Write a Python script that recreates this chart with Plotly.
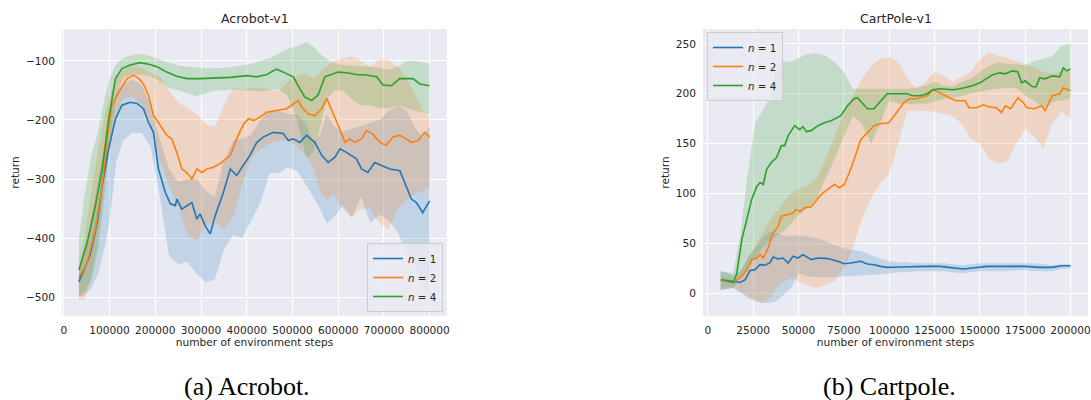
import plotly.graph_objects as go

# ---------------- Acrobot-v1 data ----------------
acro_x_n1 = [33000, 57000, 73000, 84000, 98000, 113000, 127000, 145000, 160000, 174000, 185000, 196000,
             207000, 222000, 233000, 244000, 247000, 258000, 280000, 291000, 298000, 309000, 320000, 331000,
             349000, 364000, 378000, 393000, 407000, 422000, 436000, 458000, 480000, 491000, 502000, 516000,
             531000, 549000, 564000, 578000, 593000, 604000, 618000, 640000, 651000, 665000, 680000, 695000,
             713000, 735000, 745000, 760000, 771000, 785000, 800000]
acro_mean_n1 = [-474, -430, -374, -311, -249, -198, -175, -170, -172, -181, -204, -221,
                -283, -323, -342, -345, -334, -351, -340, -368, -359, -379, -393, -362,
                -323, -283, -294, -277, -260, -238, -229, -221, -223, -235, -232, -238,
                -226, -238, -260, -272, -263, -249, -255, -266, -283, -289, -272, -277,
                -283, -286, -306, -334, -340, -357, -337]

acro_x_n2 = [33000, 51000, 69000, 84000, 95000, 105000, 120000, 138000, 153000, 164000, 174000, 185000,
             196000, 211000, 225000, 236000, 247000, 258000, 269000, 280000, 291000, 302000, 313000, 327000,
             342000, 364000, 378000, 393000, 404000, 415000, 429000, 444000, 465000, 487000, 502000, 513000,
             520000, 535000, 549000, 564000, 575000, 585000, 600000, 615000, 625000, 636000, 651000, 662000,
             676000, 691000, 705000, 720000, 735000, 749000, 760000, 775000, 789000, 800000]
acro_mean_n2 = [-467, -442, -385, -311, -232, -175, -153, -130, -124, -130, -139, -158,
                -192, -209, -226, -232, -255, -283, -289, -300, -283, -289, -283, -280,
                -274, -260, -232, -207, -198, -201, -195, -187, -184, -181, -173, -167,
                -178, -190, -193, -181, -164, -181, -209, -238, -232, -238, -232, -218,
                -224, -238, -243, -229, -226, -232, -238, -235, -221, -229]

acro_x_n4 = [33000, 51000, 69000, 84000, 98000, 113000, 127000, 145000, 167000, 182000, 204000, 225000,
             247000, 269000, 298000, 327000, 364000, 400000, 422000, 444000, 465000, 480000, 502000, 516000,
             527000, 542000, 556000, 571000, 585000, 600000, 618000, 640000, 662000, 684000, 698000, 716000,
             735000, 764000, 778000, 800000]
acro_mean_n4 = [-454, -408, -345, -283, -198, -130, -113, -107, -103, -105, -110, -119,
                -126, -130, -130, -129, -128, -125, -127, -123, -114, -119, -127, -147,
                -161, -167, -158, -127, -123, -119, -120, -123, -124, -127, -141, -142,
                -130, -130, -139, -142]

acro_band_x = [33000, 45000, 60000, 75000, 90000, 100000, 115000, 130000, 150000, 170000, 190000, 210000,
               230000, 250000, 270000, 290000, 310000, 330000, 350000, 370000, 390000, 410000, 430000, 450000,
               470000, 490000, 510000, 530000, 545000, 560000, 575000, 590000, 610000, 630000, 650000, 670000,
               690000, 710000, 730000, 750000, 770000, 785000, 800000]
acro_lo_n1 = [-500, -497, -485, -460, -413, -370, -270, -235, -222, -222, -245, -330,
              -430, -445, -440, -460, -475, -470, -420, -395, -400, -370, -340, -290,
              -290, -280, -287, -310, -330, -350, -375, -365, -345, -365, -330, -375,
              -360, -370, -390, -425, -450, -480, -495]
acro_hi_n1 = [-455, -420, -370, -300, -240, -200, -155, -137, -132, -140, -175, -232,
              -283, -305, -300, -300, -320, -330, -270, -235, -232, -225, -200, -185,
              -185, -190, -190, -205, -240, -225, -190, -210, -220, -215, -210, -205,
              -200, -185, -175, -185, -215, -230, -210]
acro_lo_n2 = [-505, -505, -470, -400, -300, -250, -190, -165, -160, -175, -210, -270,
              -310, -345, -395, -405, -380, -370, -385, -365, -310, -265, -250, -240,
              -235, -235, -245, -260, -280, -320, -335, -325, -350, -365, -350, -350,
              -375, -385, -350, -335, -325, -320, -315]
acro_hi_n2 = [-440, -400, -320, -250, -190, -160, -130, -115, -108, -112, -120, -127,
              -150, -170, -180, -190, -207, -212, -175, -145, -150, -145, -145, -150,
              -150, -135, -125, -120, -130, -120, -110, -100, -95, -92, -100, -110,
              -98, -98, -110, -130, -160, -185, -195]
acro_lo_n4 = [-500, -490, -470, -420, -320, -240, -160, -128, -123, -123, -126, -135,
              -145, -150, -155, -160, -155, -150, -150, -148, -150, -150, -152, -150,
              -148, -160, -200, -263, -255, -215, -165, -150, -150, -165, -175, -175,
              -180, -180, -175, -180, -185, -188, -190]
acro_hi_n4 = [-400, -330, -260, -220, -160, -130, -105, -95, -90, -88, -92, -98,
              -103, -108, -110, -112, -113, -112, -112, -110, -108, -105, -100, -95,
              -88, -80, -75, -68, -75, -88, -97, -103, -107, -108, -108, -110,
              -112, -115, -110, -100, -100, -102, -105]

# ---------------- CartPole-v1 data ----------------
cart_x_n1 = [7300, 13300, 17900, 20600, 23300, 26000, 28800, 31500, 34200, 36000, 38800, 41500, 44300,
             47000, 49700, 52500, 54300, 57000, 60700, 66100, 71600, 75200, 78900, 82500, 84300, 88000,
             91600, 95300, 98900, 106000, 113000, 121000, 128000, 135000, 141000, 146000, 154000, 161000,
             168000, 175000, 183000, 190000, 195000, 200000]
cart_mean_n1 = [13.4, 11.7, 10.7, 13.4, 22.8, 23.5, 28.5, 27.9, 30.2, 36.2, 34.2, 35.2, 30.2,
                36.9, 35.2, 38.6, 36.9, 33.6, 35.2, 34.6, 31.9, 29.5, 30.2, 30.9, 31.9, 29.2,
                28.5, 26.8, 25.8, 26.2, 26.8, 26.8, 26.8, 25.8, 24.2, 25.2, 26.8, 26.8,
                26.8, 26.8, 25.8, 25.8, 27.5, 27.5]

cart_x_n2 = [7300, 14200, 18800, 21500, 24200, 27000, 28800, 30600, 33300, 36000, 38800, 40600, 44300,
             47000, 48800, 50600, 53400, 57000, 58800, 62500, 66100, 69800, 72500, 75200, 78000, 80700,
             84300, 88000, 91600, 95300, 99800, 104000, 108000, 111000, 115000, 121000, 124000, 128000,
             133000, 137000, 142000, 144000, 148000, 152000, 155000, 159000, 162000, 164000, 167000,
             171000, 174000, 176000, 180000, 184000, 186000, 190000, 194000, 196000, 200000]
cart_mean_n2 = [13.4, 10.7, 16.8, 23.5, 33.6, 35.2, 38.6, 35.2, 45.3, 60.4, 67.1, 77.2, 78.9,
                80.5, 83.9, 81.5, 85.6, 86.6, 90.6, 99.0, 104.0, 109.0, 105.7, 109.0, 120.8, 134.0,
                154.0, 161.0, 168.0, 170.0, 171.0, 181.0, 191.0, 195.0, 195.0, 198.0, 204.0, 201.0,
                196.0, 193.0, 193.0, 186.0, 186.0, 189.0, 187.0, 186.0, 181.0, 188.0, 185.0,
                196.0, 191.0, 186.0, 185.0, 188.0, 183.0, 198.0, 200.0, 206.0, 203.0]

cart_x_n4 = [7300, 14200, 16000, 18800, 21500, 24200, 27000, 28800, 30600, 32400, 35000, 37900, 40600,
             42400, 44300, 47900, 50600, 52500, 54300, 57000, 60700, 64300, 68000, 73400, 77000, 80700,
             82500, 85200, 88000, 91600, 95300, 98900, 106000, 110000, 113000, 117000, 121000, 124000,
             128000, 132000, 135000, 139000, 143000, 146000, 150000, 154000, 157000, 161000, 164000,
             168000, 171000, 173000, 175000, 179000, 181000, 183000, 186000, 190000, 194000, 196000,
             198000, 200000]
cart_mean_n4 = [13.4, 10.7, 20.0, 54.0, 74.0, 94.0, 107.0, 111.0, 109.0, 124.0, 131.0, 136.0, 148.0,
                148.0, 158.0, 168.0, 164.0, 167.0, 162.0, 163.0, 168.0, 171.0, 173.0, 178.0, 188.0, 195.0,
                196.0, 191.0, 185.0, 185.0, 193.0, 200.0, 200.0, 200.0, 198.0, 198.0, 200.0, 204.0,
                205.0, 204.0, 204.0, 205.0, 207.0, 208.0, 211.0, 216.0, 219.0, 221.0, 220.0,
                223.0, 222.0, 211.0, 213.0, 207.0, 207.0, 216.0, 215.0, 218.0, 217.0, 226.0,
                223.0, 225.0]

cart_band_x = [7000, 10000, 14000, 18000, 22000, 26000, 30000, 34000, 38000, 42000, 46000, 50000, 55000,
               60000, 65000, 70000, 75000, 80000, 85000, 90000, 95000, 100000, 105000, 110000, 115000,
               120000, 125000, 130000, 135000, 140000, 145000, 150000, 155000, 160000, 165000, 170000,
               175000, 180000, 185000, 190000, 195000, 200000]
cart_lo_n1 = [3, 4, 5, 0, -5, -8, -10, -10, -8, -2, 5, 20, 17,
              16, 16, 16, 17, 17, 18, 18, 19, 20, 21, 21, 22,
              22, 22, 22, 21, 20, 21, 22, 22, 22, 22, 23,
              23, 22, 22, 22, 24, 25]
cart_hi_n1 = [22, 21, 18, 22, 35, 45, 55, 62, 60, 58, 57, 58, 57,
              55, 52, 48, 45, 43, 42, 38, 35, 32, 31, 31, 30,
              30, 30, 30, 29, 28, 29, 30, 30, 30, 30, 30,
              30, 30, 29, 28, 29, 29]
cart_lo_n2 = [5, 6, 6, 2, -3, -7, -10, -5, 5, 12, 15, 12, 8,
              5, 8, 12, 25, 45, 75, 95, 110, 120, 150, 183, 183,
              183, 182, 180, 178, 170, 155, 150, 135, 130, 132, 150,
              165, 157, 145, 170, 182, 176]
cart_hi_n2 = [18, 17, 15, 22, 35, 48, 60, 72, 82, 92, 100, 105, 108,
              115, 135, 158, 180, 198, 215, 228, 235, 237, 232, 215, 205,
              212, 222, 218, 212, 217, 222, 235, 242, 238, 236, 233,
              230, 226, 222, 220, 222, 225]
cart_lo_n4 = [3, 4, 5, 15, 25, 35, 45, 52, 58, 62, 70, 78, 85,
              95, 115, 135, 156, 178, 170, 150, 170, 193, 190, 190, 190,
              190, 192, 195, 196, 198, 200, 202, 204, 205, 206, 206,
              198, 193, 185, 192, 193, 196]
cart_hi_n4 = [22, 21, 20, 60, 120, 170, 182, 195, 228, 233, 232, 236, 240,
              241, 238, 232, 222, 205, 205, 205, 205, 205, 205, 205, 206,
              208, 212, 208, 207, 212, 215, 222, 228, 232, 230, 230,
              228, 233, 235, 238, 248, 250]

labels = ["<i>n</i> = 1", "<i>n</i> = 2", "<i>n</i> = 4"]
colors = ["#1f77b4", "#ff7f0e", "#2ca02c"]
fills = ["rgba(31,119,180,0.2)", "rgba(255,127,14,0.2)", "rgba(44,160,44,0.2)"]

FONT = "DejaVu Sans"
TXT = "#262626"
BG = "#EAEAF2"

fig = go.Figure()


def add_panel(bx, los, his, xs, means, xa, ya, legend):
    for lo, hi, fc in zip(los, his, fills):
        fig.add_trace(go.Scatter(x=bx + bx[::-1], y=hi + lo[::-1], fill="toself", fillcolor=fc,
                                 line=dict(width=0), mode="lines", hoverinfo="skip", showlegend=False,
                                 xaxis=xa, yaxis=ya))
    for x, m, c, lab in zip(xs, means, colors, labels):
        fig.add_trace(go.Scatter(x=x, y=m, mode="lines", line=dict(color=c, width=1.6), name=lab,
                                 xaxis=xa, yaxis=ya, legend=legend))


add_panel(acro_band_x, [acro_lo_n1, acro_lo_n2, acro_lo_n4], [acro_hi_n1, acro_hi_n2, acro_hi_n4],
          [acro_x_n1, acro_x_n2, acro_x_n4], [acro_mean_n1, acro_mean_n2, acro_mean_n4], "x", "y", "legend")
add_panel(cart_band_x, [cart_lo_n1, cart_lo_n2, cart_lo_n4], [cart_hi_n1, cart_hi_n2, cart_hi_n4],
          [cart_x_n1, cart_x_n2, cart_x_n4], [cart_mean_n1, cart_mean_n2, cart_mean_n4], "x2", "y2", "legend2")

W, H = 1091, 400


def px_x(a, b):
    return [a / W, b / W]


def px_y(top, bottom):
    return [1 - bottom / H, 1 - top / H]


axis_common = dict(showgrid=True, gridcolor="white", gridwidth=1.2, zeroline=False, showline=False,
                   ticks="", tickfont=dict(family=FONT, size=10.6, color=TXT), ticklabelstandoff=6,
                   automargin=False)

title_font = dict(family=FONT, size=10.6, color=TXT)
legend_common = dict(bgcolor="rgba(234,234,242,0.8)", bordercolor="#cccccc", borderwidth=1,
                     font=dict(family=FONT, size=10.3, color=TXT), itemwidth=30)

fig.update_layout(
    width=W, height=H,
    margin=dict(l=0, r=0, t=0, b=0, pad=0, autoexpand=False),
    paper_bgcolor="white",
    plot_bgcolor=BG,
    font=dict(family=FONT, color=TXT),
    hovermode=False,
    xaxis=dict(domain=px_x(62, 447), range=[-4000, 838000], tickvals=list(range(0, 800001, 100000)),
               tickformat="d", anchor="y",
               title=dict(text="number of environment steps", font=title_font, standoff=2), **axis_common),
    yaxis=dict(domain=px_y(29, 316), range=[-532, -46], tickvals=[-500, -400, -300, -200, -100], anchor="x",
               title=dict(text="return", font=title_font, standoff=4), **axis_common),
    xaxis2=dict(domain=px_x(703, 1088), range=[-2650, 209650], tickvals=list(range(0, 200001, 25000)),
                tickformat="d", anchor="y2",
                title=dict(text="number of environment steps", font=title_font, standoff=2), **axis_common),
    yaxis2=dict(domain=px_y(29, 316), range=[-23, 265], tickvals=[0, 50, 100, 150, 200, 250], anchor="x2",
                title=dict(text="return", font=title_font, standoff=4), **axis_common),
    legend=dict(x=443 / W, xanchor="right", y=1 - 312 / H, yanchor="bottom", **legend_common),
    legend2=dict(x=707 / W, xanchor="left", y=1 - 32 / H, yanchor="top", **legend_common),
    showlegend=True,
)

annotations = [
    dict(text="Acrobot-v1", x=(62 + 447) / 2 / W, y=1 - 18 / H, xref="paper", yref="paper",
         showarrow=False, font=dict(family=FONT, size=12.5, color=TXT), xanchor="center", yanchor="middle"),
    dict(text="CartPole-v1", x=(703 + 1088) / 2 / W, y=1 - 18 / H, xref="paper", yref="paper",
         showarrow=False, font=dict(family=FONT, size=12.5, color=TXT), xanchor="center", yanchor="middle"),
    dict(text="(a) Acrobot.", x=247 / W, y=1 - 386 / H, xref="paper", yref="paper", showarrow=False,
         font=dict(family="Liberation Serif", size=26, color="black"), xanchor="center", yanchor="middle"),
    dict(text="(b) Cartpole.", x=889 / W, y=1 - 386 / H, xref="paper", yref="paper", showarrow=False,
         font=dict(family="Liberation Serif", size=26, color="black"), xanchor="center", yanchor="middle"),
]
fig.update_layout(annotations=annotations)

fig.write_html("out.html", config={"displayModeBar": False},
               post_script="document.body.style.margin='0';document.body.style.overflow='hidden';")
